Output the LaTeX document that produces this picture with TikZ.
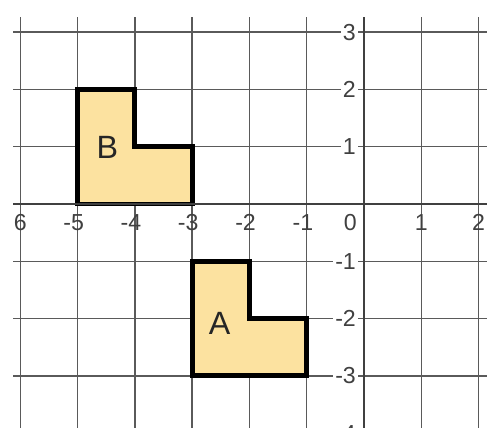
\documentclass[tikz,border=0pt]{standalone}
\usepackage{fontspec}
\setmainfont{Liberation Sans}
\definecolor{shapefill}{HTML}{FCE2A0}
\definecolor{gridcol}{HTML}{5A5A5A}
\definecolor{labcol}{HTML}{404040}
\begin{document}
\begin{tikzpicture}[x=1cm,y=1cm,
  gridline/.style={draw=gridcol,line width=0.7pt},
  axisline/.style={draw=black!75,line width=0.9pt},
  shapeline/.style={draw=black,line width=2.4pt,fill=shapefill,line join=miter},
  xlab/.style={text=labcol,font=\fontsize{11.5}{12}\selectfont,inner sep=0pt},
  ylab/.style={text=labcol,font=\fontsize{11.5}{12}\selectfont,inner xsep=1pt,inner ysep=0.5pt,anchor=east,fill=white},
  shapelab/.style={text=black!85,font=\fontsize{16}{18}\selectfont,inner sep=0pt}]
\useasboundingbox (-6.353,-3.91) rectangle (2.147,3.56);
% grid
\foreach \x in {-6,-5,-4,-3,-2,-1,1,2} \draw[gridline] (\x,3.26) -- (\x,-3.95);
\foreach \y in {-3,-2,-1,1,2,3} \draw[gridline] (-6.126,\y) -- (2.2,\y);
% shapes
\draw[shapeline] (-5,0) -- (-5,2) -- (-4,2) -- (-4,1) -- (-3,1) -- (-3,0) -- cycle;
\draw[shapeline] (-3,-1) -- (-2,-1) -- (-2,-2) -- (-1,-2) -- (-1,-3) -- (-3,-3) -- cycle;
% axes
\draw[axisline] (0,3.26) -- (0,-3.95);
\draw[axisline] (-6.126,0) -- (2.2,0);
% x labels
\node[xlab] (xm6) at (-6,-0.33) {6};
\foreach \x in {-5,-4,-3,-2,-1}
  \node[xlab] (xl\x) at (\x,-0.33) {\makebox[0pt][r]{-}\the\numexpr-\x\relax};
\node[xlab] (x0) at (-0.24,-0.33) {0};
\node[xlab] (x1) at (1,-0.33) {1};
\node[xlab] (x2) at (2,-0.33) {2};
% y labels
\foreach \y in {1,2,3} \node[ylab] (yl\y) at (-0.1,\y) {\y};
\foreach \y in {-1,-2,-3,-4} \node[ylab] (yl\y) at (-0.1,\y) {-\the\numexpr-\y\relax};
% shape labels
\node[shapelab] (labB) at (-4.48,0.98) {B};
\node[shapelab] (labA) at (-2.52,-2.08) {A};
\end{tikzpicture}
\end{document}
